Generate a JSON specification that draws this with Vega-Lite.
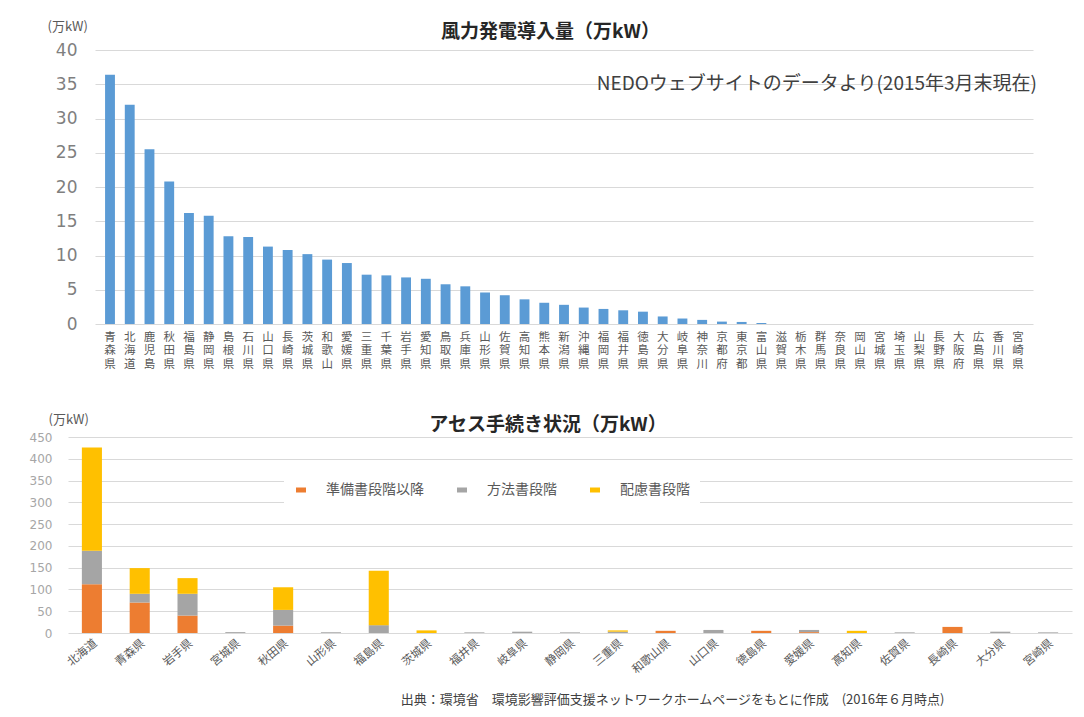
{
  "$schema": "https://vega.github.io/schema/vega-lite/v6.json",
  "background": "white",
  "padding": {"left": 29, "top": 20, "right": 5, "bottom": 5},
  "spacing": 43,
  "resolve": {"legend": {"color": "independent"}},
  "config": {
    "view": {"stroke": null},
    "font": "Noto Sans CJK JP",
    "axis": {"labelColor": "#595959", "titleColor": "#595959", "gridColor": "#d9d9d9", "domain": false, "ticks": false, "tickSize": 0},
    "title": {"color": "#262626", "fontSize": 19, "fontWeight": "bold"}
  },
  "vconcat": [
    {
      "width": 965,
      "height": 274,
      "title": {"text": "風力発電導入量（万kW）", "offset": -22},
      "data": {"values": [
        {"p": "青森県", "v": 36.4}, {"p": "北海道", "v": 32.0}, {"p": "鹿児島", "v": 25.5}, {"p": "秋田県", "v": 20.8},
        {"p": "福島県", "v": 16.2}, {"p": "静岡県", "v": 15.8}, {"p": "島根県", "v": 12.8}, {"p": "石川県", "v": 12.7},
        {"p": "山口県", "v": 11.3}, {"p": "長崎県", "v": 10.8}, {"p": "茨城県", "v": 10.2}, {"p": "和歌山", "v": 9.4},
        {"p": "愛媛県", "v": 8.9}, {"p": "三重県", "v": 7.2}, {"p": "千葉県", "v": 7.1}, {"p": "岩手県", "v": 6.8},
        {"p": "愛知県", "v": 6.6}, {"p": "鳥取県", "v": 5.8}, {"p": "兵庫県", "v": 5.5}, {"p": "山形県", "v": 4.6},
        {"p": "佐賀県", "v": 4.2}, {"p": "高知県", "v": 3.6}, {"p": "熊本県", "v": 3.1}, {"p": "新潟県", "v": 2.8},
        {"p": "沖縄県", "v": 2.4}, {"p": "福岡県", "v": 2.2}, {"p": "福井県", "v": 2.0}, {"p": "徳島県", "v": 1.8},
        {"p": "大分県", "v": 1.1}, {"p": "岐阜県", "v": 0.8}, {"p": "神奈川", "v": 0.6}, {"p": "京都府", "v": 0.35},
        {"p": "東京都", "v": 0.3}, {"p": "富山県", "v": 0.15}, {"p": "滋賀県", "v": 0}, {"p": "栃木県", "v": 0},
        {"p": "群馬県", "v": 0}, {"p": "奈良県", "v": 0}, {"p": "岡山県", "v": 0}, {"p": "宮城県", "v": 0},
        {"p": "埼玉県", "v": 0}, {"p": "山梨県", "v": 0}, {"p": "長野県", "v": 0}, {"p": "大阪府", "v": 0},
        {"p": "広島県", "v": 0}, {"p": "香川県", "v": 0}, {"p": "宮崎県", "v": 0}
      ]},
      "layer": [
        {
          "mark": {"type": "bar", "color": "#5B9BD5"},
          "encoding": {
            "x": {"field": "p", "type": "nominal", "sort": null,
              "scale": {"rangeMin": 27, "paddingInner": 0.5, "paddingOuter": 0.51},
              "axis": {"title": null, "labelAngle": 0, "labelAlign": "center", "labelBaseline": "top",
                "labelExpr": "split(datum.label, '')", "labelFontSize": 11.5, "labelLineHeight": 13.5,
                "labelPadding": 7, "labelOverlap": false, "grid": false}},
            "y": {"field": "v", "type": "quantitative",
              "scale": {"domain": [0, 40]},
              "axis": {"values": [0, 5, 10, 15, 20, 25, 30, 35, 40], "labelFontSize": 17, "labelFont": "DejaVu Sans", "labelPadding": -9,
                "labelColor": "#7f7f7f", "labelOverlap": false,
                "title": "(万kW)", "titleAngle": 0, "titleAlign": "left", "titleBaseline": "middle",
                "titleX": -21, "titleY": -24, "titleFontSize": 13, "titleFontWeight": "normal"}}
          }
        },
        {
          "data": {"values": [{"t": "NEDOウェブサイトのデータより(2015年3月末現在)"}]},
          "mark": {"type": "text", "align": "right", "baseline": "middle", "dx": 19, "fontSize": 19, "color": "#404040"},
          "encoding": {
            "x": {"datum": "宮崎県", "type": "nominal",
              "axis": {"title": null, "labelAngle": 0, "labelAlign": "center", "labelBaseline": "top",
                "labelExpr": "split(datum.label, '')", "labelFontSize": 11.5, "labelLineHeight": 13.5,
                "labelPadding": 7, "labelOverlap": false, "grid": false}},
            "y": {"datum": 35, "type": "quantitative",
              "axis": {"values": [0, 5, 10, 15, 20, 25, 30, 35, 40], "labelFontSize": 17, "labelFont": "DejaVu Sans", "labelPadding": -9,
                "labelColor": "#7f7f7f", "labelOverlap": false,
                "title": "(万kW)", "titleAngle": 0, "titleAlign": "left", "titleBaseline": "middle",
                "titleX": -21, "titleY": -24, "titleFontSize": 13, "titleFontWeight": "normal"}},
            "text": {"field": "t", "type": "nominal"}
          }
        }
      ]
    },
    {
      "width": 1004,
      "height": 196,
      "title": {"text": "アセス手続き状況（万kW）", "offset": -22, "dx": -22},
      "data": {"values": [
        {"p": "北海道", "s": "準備書段階以降", "o": 1, "v": 112}, {"p": "北海道", "s": "方法書段階", "o": 2, "v": 77}, {"p": "北海道", "s": "配慮書段階", "o": 3, "v": 237},
        {"p": "青森県", "s": "準備書段階以降", "o": 1, "v": 70}, {"p": "青森県", "s": "方法書段階", "o": 2, "v": 20}, {"p": "青森県", "s": "配慮書段階", "o": 3, "v": 59},
        {"p": "岩手県", "s": "準備書段階以降", "o": 1, "v": 40}, {"p": "岩手県", "s": "方法書段階", "o": 2, "v": 50}, {"p": "岩手県", "s": "配慮書段階", "o": 3, "v": 36},
        {"p": "宮城県", "s": "方法書段階", "o": 2, "v": 2},
        {"p": "秋田県", "s": "準備書段階以降", "o": 1, "v": 17}, {"p": "秋田県", "s": "方法書段階", "o": 2, "v": 36}, {"p": "秋田県", "s": "配慮書段階", "o": 3, "v": 52},
        {"p": "山形県", "s": "方法書段階", "o": 2, "v": 2},
        {"p": "福島県", "s": "方法書段階", "o": 2, "v": 18}, {"p": "福島県", "s": "配慮書段階", "o": 3, "v": 125},
        {"p": "茨城県", "s": "配慮書段階", "o": 3, "v": 6},
        {"p": "福井県", "s": "方法書段階", "o": 2, "v": 1.5},
        {"p": "岐阜県", "s": "方法書段階", "o": 2, "v": 3},
        {"p": "静岡県", "s": "方法書段階", "o": 2, "v": 1.5},
        {"p": "三重県", "s": "方法書段階", "o": 2, "v": 3}, {"p": "三重県", "s": "配慮書段階", "o": 3, "v": 3},
        {"p": "和歌山県", "s": "準備書段階以降", "o": 1, "v": 5},
        {"p": "山口県", "s": "方法書段階", "o": 2, "v": 7},
        {"p": "徳島県", "s": "準備書段階以降", "o": 1, "v": 5},
        {"p": "愛媛県", "s": "準備書段階以降", "o": 1, "v": 2}, {"p": "愛媛県", "s": "方法書段階", "o": 2, "v": 5},
        {"p": "高知県", "s": "配慮書段階", "o": 3, "v": 5},
        {"p": "佐賀県", "s": "方法書段階", "o": 2, "v": 1.5},
        {"p": "長崎県", "s": "準備書段階以降", "o": 1, "v": 14},
        {"p": "大分県", "s": "方法書段階", "o": 2, "v": 3},
        {"p": "宮崎県", "s": "方法書段階", "o": 2, "v": 1.5}
      ]},
      "mark": {"type": "bar"},
      "encoding": {
        "x": {"field": "p", "type": "nominal", "sort": null,
          "scale": {"paddingInner": 0.58, "paddingOuter": 0.29},
          "axis": {"labelAngle": -40, "labelFontSize": 11.5, "labelPadding": 4, "grid": false,
            "title": "出典：環境省　環境影響評価支援ネットワークホームページをもとに作成　(2016年６月時点)",
            "titleFontSize": 13, "titleFontWeight": "normal", "titleColor": "#404040",
            "titleX": 604, "titleY": 66, "titleAlign": "center", "titleBaseline": "middle"}},
        "y": {"field": "v", "type": "quantitative", "stack": "zero",
          "scale": {"domain": [0, 450]},
          "axis": {"values": [0, 50, 100, 150, 200, 250, 300, 350, 400, 450], "labelFontSize": 12, "labelFont": "DejaVu Sans", "labelPadding": 16,
            "labelColor": "#a6a6a6", "labelOverlap": false,
            "title": "(万kW)", "titleAngle": 0, "titleAlign": "left", "titleBaseline": "middle",
            "titleX": -20, "titleY": -18, "titleFontSize": 13, "titleFontWeight": "normal"}},
        "color": {"field": "s", "type": "nominal",
          "scale": {"domain": ["準備書段階以降", "方法書段階", "配慮書段階"], "range": ["#ED7D31", "#A5A5A5", "#FFC000"]},
          "legend": {"orient": "none", "legendX": 216, "legendY": 36, "direction": "horizontal", "title": null,
            "fillColor": "white", "padding": 10, "columnPadding": 31, "labelFontSize": 14, "labelColor": "#595959",
            "symbolType": "M-1,-0.5H1V0.5H-1Z", "symbolSize": 100, "labelOffset": 18}},
        "order": {"field": "o", "type": "quantitative"}
      }
    }
  ]
}
